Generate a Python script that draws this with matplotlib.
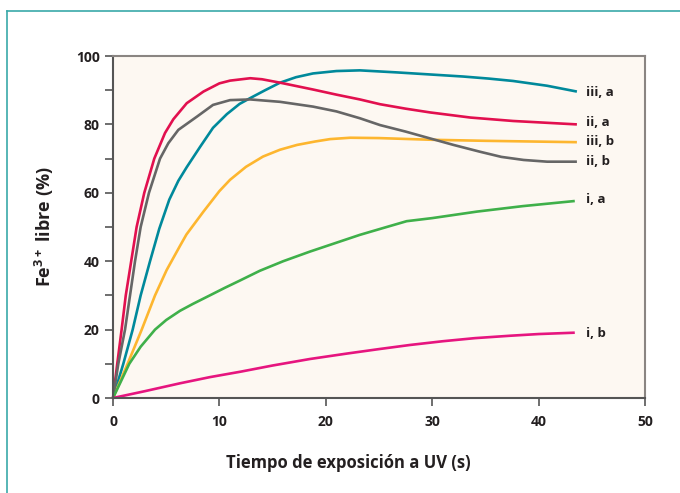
import matplotlib.pyplot as plt
from matplotlib.lines import Line2D
from matplotlib.ticker import MultipleLocator

plt.rcParams['font.family'] = ['Open Sans', 'DejaVu Sans']
plt.rcParams['mathtext.default'] = 'regular'

# curve data (time in s, free Fe3+ in %)
iii_a_x = [0, 0.97, 1.85, 2.6, 3.48, 4.35, 5.29, 6.14, 6.93, 8.2, 9.4, 10.7, 11.9, 12.9, 14.3,
           15.7, 17.2, 18.8, 21, 23.2, 26.7, 29.8, 32.9, 35.3, 37.6, 40.8, 43.6]
iii_a_y = [0, 10, 20, 30, 40, 49.5, 58, 63.5, 67.5, 73.5, 79, 83, 86, 87.7, 90,
           92.2, 93.8, 94.9, 95.6, 95.8, 95.2, 94.6, 94.0, 93.4, 92.7, 91.3, 89.6]

ii_a_x = [0, 0.4, 0.81, 1.2, 1.66, 2.22, 2.94, 3.88, 4.89, 5.67, 6.93, 8.5, 10, 11, 12.9, 14,
          15.7, 18.8, 21, 23.2, 25.1, 27.5, 29.8, 33.6, 37.6, 43.6]
ii_a_y = [0, 10, 20, 30, 39, 50, 60, 70, 77.5, 81.5, 86.2, 89.6, 92, 92.8, 93.5, 93.2,
          92.2, 90.2, 88.7, 87.3, 85.9, 84.6, 83.5, 82.0, 81.0, 80.0]

ii_b_x = [0, 0.5, 1.13, 1.6, 2.07, 2.6, 3.38, 4.42, 5.2, 6.14, 7.9, 9.4, 11, 12.9, 15.7, 18.8,
          21, 23.2, 25.1, 27.5, 29.8, 32, 34.5, 36.5, 38.6, 40.8, 43.6]
ii_b_y = [0, 10, 20, 30, 40, 50, 60, 70, 74.5, 78.4, 82.3, 85.7, 87.1, 87.3, 86.6, 85.2,
          83.8, 81.8, 79.8, 77.9, 75.9, 74, 72, 70.5, 69.6, 69.1, 69.1]

iii_b_x = [0, 1.44, 2.7, 3.95, 5.04, 6.3, 6.9, 8.5, 10, 11, 12.5, 14.1, 15.7, 17.3, 19, 20.4,
           22.3, 25, 30, 35, 43.6]
iii_b_y = [0, 10.5, 20, 30, 37.4, 44.5, 47.8, 54.5, 60.5, 63.8, 67.6, 70.6, 72.6, 74, 75, 75.7,
           76.1, 76, 75.5, 75.2, 74.8]

i_a_x = [0, 0.66, 1.53, 2.6, 3.95, 5, 6.3, 7.5, 9.1, 10.5, 11.9, 13.8, 16, 18.5,
         20.8, 23.2, 25.5, 27.6, 30, 34.2, 38.5, 43.4]
i_a_y = [0, 4.3, 10, 15, 20, 22.8, 25.5, 27.5, 30, 32.2, 34.3, 37.2, 40, 42.8,
         45.2, 47.7, 49.8, 51.7, 52.6, 54.5, 56.1, 57.6]

i_b_x = [0, 3, 6.3, 9.1, 12, 15, 18.5, 22, 25, 27.9, 31, 34, 37.3, 40, 43.4]
i_b_y = [0, 2, 4.3, 6.1, 7.7, 9.5, 11.4, 13, 14.3, 15.5, 16.6, 17.5, 18.2, 18.7, 19.1]

series = [
    ('iii, a', iii_a_x, iii_a_y, '#00899b', 89.4),
    ('ii, a', ii_a_x, ii_a_y, '#e2104f', 80.5),
    ('iii, b', iii_b_x, iii_b_y, '#fdb62f', 75.1),
    ('ii, b', ii_b_x, ii_b_y, '#666666', 69.1),
    ('i, a', i_a_x, i_a_y, '#3fb04a', 57.9),
    ('i, b', i_b_x, i_b_y, '#e6157f', 18.9),
]

fig = plt.figure(figsize=(6.8, 4.93), dpi=100)
ax = fig.add_axes([113 / 680, 95 / 493, 532 / 680, 342 / 493])
ax.set_facecolor('#fdf8f2')

# outer frame (top and left rules)
fig.add_artist(Line2D([7 / 680, 1], [482 / 493, 482 / 493], color='#3aa9a9', lw=1.2,
                      transform=fig.transFigure))
fig.add_artist(Line2D([7 / 680, 7 / 680], [0, 482 / 493], color='#3aa9a9', lw=1.2,
                      transform=fig.transFigure))

for name, xs, ys, col, ly in series:
    ax.plot(xs, ys, color=col, lw=1.9, solid_joinstyle='round', solid_capstyle='butt', clip_on=False)
    ax.text(44.45, ly, name, color='#231f20', fontsize=9.5, fontweight='bold',
            va='center', ha='left')

ax.set_xlim(0, 50)
ax.set_ylim(0, 100)
ax.xaxis.set_major_locator(MultipleLocator(10))
ax.yaxis.set_major_locator(MultipleLocator(20))
ax.yaxis.set_minor_locator(MultipleLocator(10))

for side in ['left', 'bottom']:
    ax.spines[side].set_color('#555555')
    ax.spines[side].set_linewidth(1.5)
for side in ['top', 'right']:
    ax.spines[side].set_color('#8a8582')
    ax.spines[side].set_linewidth(1.5)

ax.tick_params(axis='both', which='both', direction='out', length=6, width=1.2, color='#555555',
               labelsize=10, labelcolor='#231f20')
ax.tick_params(axis='x', pad=6)
for lab in ax.get_xticklabels() + ax.get_yticklabels():
    lab.set_fontweight('bold')

ax.set_xlabel('Tiempo de exposición a UV (s)', fontsize=12, fontweight='bold', color='#231f20')
ax.xaxis.set_label_coords((348 - 113) / 532, -0.165)
ax.set_ylabel('Fe$^{3+}$ libre (%)', fontsize=13, fontweight='bold', color='#231f20', labelpad=14)

fig.savefig('out.png', dpi=100)
